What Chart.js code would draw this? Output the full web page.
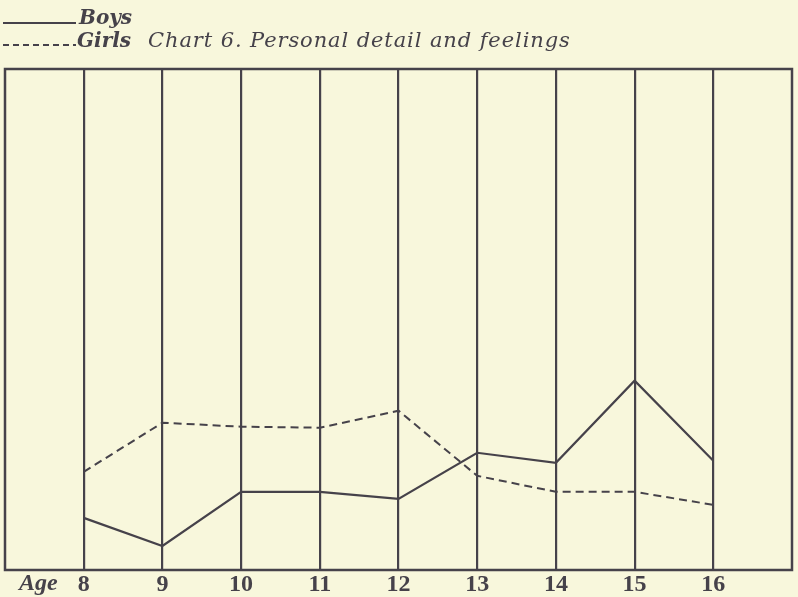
<!DOCTYPE html>
<html>
<head>
<meta charset="utf-8">
<script src="https://cdn.jsdelivr.net/npm/chart.js@4"></script>
<style>
    html, body { margin: 0; padding: 0; background: #f8f7dc; }
    #wrap { width: 798px; height: 597px; }
</style>
</head>
<body>
<div id="wrap"><canvas id="lineChart" width="798" height="597"></canvas></div>
<script>
// values (arbitrary vertical scale, frame = 0..50)
const ages = [8, 9, 10, 11, 12, 13, 14, 15, 16];
const boys = [5.2, 2.4, 7.8, 7.8, 7.1, 11.7, 10.7, 18.9, 10.9];
const girls = [9.8, 14.7, 14.3, 14.2, 15.9, 9.4, 7.8, 7.8, 6.5];

const ink = '#46424a';

// frame, header and "Age" label
const decor = {
    id: 'decor',
    afterDraw(chart) {
        const ctx = chart.ctx;
        const a = chart.chartArea;
        ctx.save();
        ctx.strokeStyle = ink;
        ctx.lineWidth = 2.5;
        ctx.strokeRect(a.left, a.top, a.right - a.left, a.bottom - a.top);

        // legend lines
        ctx.lineWidth = 1.8;
        ctx.beginPath();
        ctx.moveTo(3, 23);
        ctx.lineTo(76, 23);
        ctx.stroke();
        ctx.setLineDash([6, 4]);
        ctx.beginPath();
        ctx.moveTo(3, 45);
        ctx.lineTo(76, 45);
        ctx.stroke();
        ctx.setLineDash([]);

        ctx.fillStyle = ink;
        ctx.textBaseline = 'alphabetic';
        ctx.font = 'italic bold 20px "DejaVu Serif"';
        ctx.fillText('Boys', 79, 24);
        ctx.fillText('Girls', 77, 47);
        ctx.font = 'italic 21px "DejaVu Serif"';
        ctx.letterSpacing = '0.9px';
        ctx.fillText('Chart 6. Personal detail and feelings', 148, 47);
        ctx.letterSpacing = '0px';

        ctx.font = 'italic bold 24px "Liberation Serif"';
        ctx.fillText('Age', 19, 590);
        ctx.restore();
    }
};

const ctx = document.getElementById('lineChart').getContext('2d');
const lineChart = new Chart(ctx, {
    type: 'line',
    data: {
        labels: ages,
        datasets: [{
            label: 'Boys',
            data: ages.map((a, i) => ({ x: a, y: boys[i] })),
            borderColor: ink,
            borderWidth: 2.2,
            pointRadius: 0,
            tension: 0
        }, {
            label: 'Girls',
            data: ages.map((a, i) => ({ x: a, y: girls[i] })),
            borderColor: ink,
            borderWidth: 2,
            borderDash: [8, 5],
            pointRadius: 0,
            tension: 0
        }]
    },
    options: {
        responsive: false,
        animation: false,
        layout: { padding: { top: 69, left: 5, right: 6, bottom: 0 } },
        plugins: {
            legend: { display: false },
            tooltip: { enabled: false }
        },
        scales: {
            x: {
                type: 'linear',
                min: 7,
                max: 17,
                afterFit: function(axis) { axis.height = 27; },
                border: { display: false },
                grid: {
                    drawTicks: false,
                    lineWidth: 2.2,
                    color: c => (c.tick && c.tick.value >= 8 && c.tick.value <= 16) ? ink : 'rgba(0,0,0,0)'
                },
                ticks: {
                    stepSize: 1,
                    padding: 0,
                    color: ink,
                    font: { family: 'Liberation Serif', size: 24, weight: 'bold' },
                    callback: v => (v >= 8 && v <= 16) ? String(v) : ''
                }
            },
            y: {
                display: false,
                min: 0,
                max: 50
            }
        }
    },
    plugins: [decor]
});
</script>
</body>
</html>
